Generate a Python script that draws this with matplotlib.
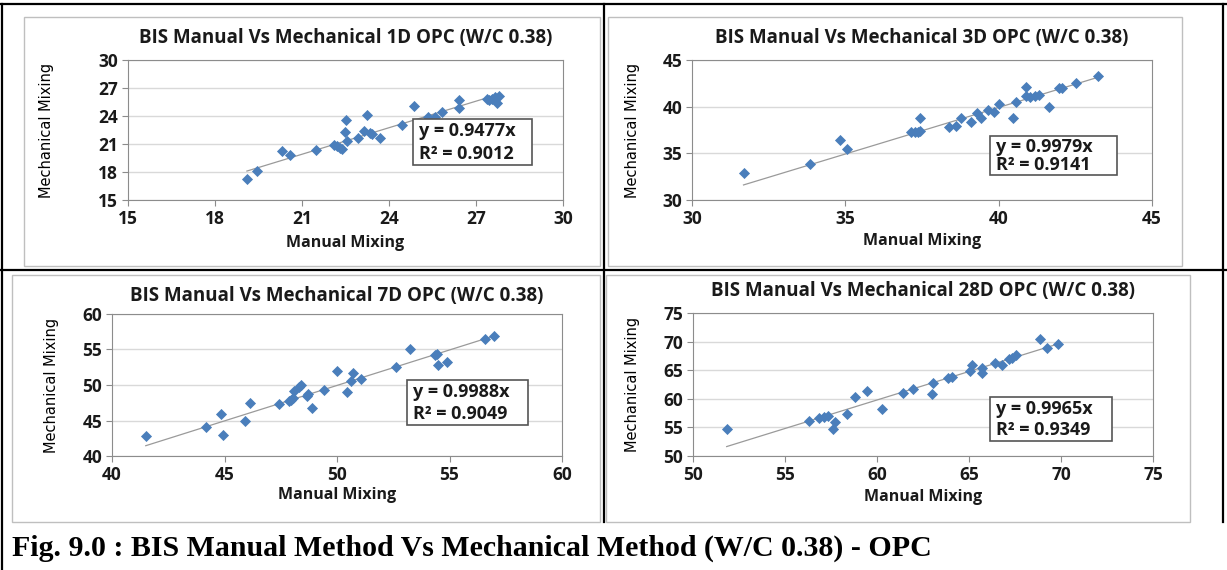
import matplotlib
matplotlib.use('Agg')
import matplotlib.pyplot as plt
from matplotlib.lines import Line2D
from matplotlib.patches import Rectangle

# ---------------- data ----------------
ages = ['1D', '3D', '7D', '28D']
slopes = [0.9477, 0.9979, 0.9988, 0.9965]
r2_values = [0.9012, 0.9141, 0.9049, 0.9349]

# 1 day
manual_1d = [19.1, 19.45, 20.3, 20.57, 21.48, 22.12, 22.22, 22.31, 22.39, 22.47, 22.54,
             22.53, 22.93, 23.15, 23.24, 23.35, 23.4, 23.68, 24.44, 24.85, 25.34, 25.6,
             25.84, 26.42, 26.42, 27.37, 27.45, 27.56, 27.66, 27.81, 27.74]
mech_1d = [17.26, 18.15, 20.28, 19.84, 20.35, 20.9, 20.77, 20.6, 20.42, 22.28, 21.28,
           23.52, 21.67, 22.37, 24.15, 22.15, 22.05, 21.67, 23.08, 25.08, 23.85, 23.94,
           24.38, 25.74, 24.91, 25.77, 25.67, 25.86, 25.99, 26.17, 25.38]
ticks_1d = [15, 18, 21, 24, 27, 30]

# 3 days
manual_3d = [31.68, 33.85, 34.84, 35.04, 37.15, 37.26, 37.36, 37.45, 37.45, 38.37, 38.6,
             38.77, 39.11, 39.29, 39.42, 39.64, 39.84, 40.02, 40.47, 40.56, 40.89, 40.9,
             41.03, 41.17, 41.3, 41.64, 41.98, 42.07, 42.51, 43.24]
mech_3d = [32.9, 33.88, 36.47, 35.51, 37.25, 37.28, 37.33, 37.43, 38.77, 37.83, 37.97,
           38.77, 38.33, 39.3, 38.77, 39.66, 39.42, 40.33, 38.75, 40.54, 42.09, 41.12,
           41.05, 41.1, 41.3, 39.95, 42.0, 42.05, 42.56, 43.24]
ticks_3d = [30, 35, 40, 45]

# 7 days
manual_7d = [41.5, 44.18, 44.84, 44.92, 45.9, 46.15, 47.43, 47.85, 47.97, 48.06, 48.08,
             48.3, 48.4, 48.66, 48.7, 48.9, 49.44, 50.02, 50.46, 50.62, 50.73, 51.08,
             52.64, 53.23, 54.37, 54.46, 54.49, 54.87, 56.56, 56.96]
mech_7d = [42.79, 44.1, 45.88, 42.89, 44.9, 47.52, 47.33, 47.7, 47.95, 48.2, 49.18,
           49.78, 49.98, 48.4, 48.75, 46.74, 49.33, 52.03, 48.95, 50.53, 51.7, 50.91,
           52.52, 55.12, 54.26, 54.3, 52.88, 53.28, 56.44, 56.84]
ticks_7d = [40, 45, 50, 55, 60]

# 28 days
manual_28d = [51.83, 56.3, 56.84, 57.13, 57.33, 57.62, 57.72, 58.39, 58.8, 59.48, 60.28,
              61.4, 61.93, 63.04, 63.0, 63.88, 64.05, 65.03, 65.18, 65.7, 65.7, 66.43,
              66.82, 67.19, 67.33, 67.57, 68.87, 69.22, 69.85]
mech_28d = [54.74, 56.05, 56.6, 56.86, 57.04, 54.74, 56.01, 57.37, 60.29, 61.42, 58.18,
            61.1, 61.69, 62.74, 60.9, 63.62, 63.8, 64.8, 65.94, 65.47, 64.45, 66.22,
            65.92, 66.95, 67.22, 67.67, 70.47, 68.95, 69.53]
ticks_28d = [50, 55, 60, 65, 70, 75]

caption = 'Fig. 9.0 : BIS Manual Method Vs Mechanical Method (W/C 0.38) - OPC'

# ---------------- layout (pixel coords of the 1227x570 picture) ----------------
W, H = 1227, 570


def fx(p):
    return p / W


def fy(p):
    return 1 - p / H


# plot box (left, right, top, bottom), title y, xlabel y, ylabel x, eq box (l, t, r, b)
layout = [
    dict(box=(128, 563, 60, 200), title_y=38, xlab_y=243, ylab_x=47, eq=(413, 119, 532, 165)),
    dict(box=(692, 1152, 60, 200), title_y=38, xlab_y=241, ylab_x=632, eq=(990, 136, 1117, 175)),
    dict(box=(112, 562, 314, 456), title_y=296, xlab_y=495, ylab_x=52, eq=(407, 380, 528, 425)),
    dict(box=(693, 1153, 313, 456), title_y=291, xlab_y=497, ylab_x=632, eq=(990, 397, 1112, 441)),
]
panels = [(manual_1d, mech_1d, ticks_1d), (manual_3d, mech_3d, ticks_3d),
          (manual_7d, mech_7d, ticks_7d), (manual_28d, mech_28d, ticks_28d)]

SANS = ['Open Sans', 'DejaVu Sans']
NARROW = ['Liberation Sans Narrow', 'DejaVu Sans']
plt.rcParams['font.family'] = SANS
TXT = '#1a1a1a'

fig = plt.figure(figsize=(W / 100, H / 100), dpi=100)

for i, ((xs, ys, ticks), lay) in enumerate(zip(panels, layout)):
    l, r, t, b = lay['box']
    ax = fig.add_axes([fx(l), fy(b), (r - l) / W, (b - t) / H])
    ax.scatter(xs, ys, marker='D', s=32, color='#4a7ebb', zorder=3, linewidths=0)

    # linear trend through origin over the data range
    x0, x1 = min(xs), max(xs)
    ax.plot([x0, x1], [slopes[i] * x0, slopes[i] * x1], color='#9a9a9a', lw=0.9, zorder=2)

    ax.set_xlim(ticks[0], ticks[-1])
    ax.set_ylim(ticks[0], ticks[-1])
    ax.set_xticks(ticks)
    ax.set_yticks(ticks)
    ax.set_xticklabels([str(v) for v in ticks], fontweight='bold', fontsize=12.5, color=TXT)
    ax.set_yticklabels([str(v) for v in ticks], fontweight='bold', fontsize=12.5, color=TXT)
    ax.tick_params(axis='both', direction='out', length=4, width=0.8, color='#8c8c8c', pad=3)
    ax.grid(axis='y', color='#d9d9d9', lw=1)
    ax.set_axisbelow(True)
    for sp in ax.spines.values():
        sp.set_color('#8c8c8c')
        sp.set_linewidth(0.8)

    cx = (l + r) / 2
    fig.text(fx(cx), fy(lay['title_y']), f'BIS Manual Vs Mechanical {ages[i]} OPC (W/C 0.38)',
             ha='center', va='center', fontsize=13.5, fontweight='bold', color=TXT)
    fig.text(fx(cx), fy(lay['xlab_y']), 'Manual Mixing', ha='center', va='center',
             fontsize=11.5, fontweight='bold', color=TXT)
    fig.text(fx(lay['ylab_x']), fy((t + b) / 2), 'Mechanical Mixing', ha='center', va='center',
             rotation=90, fontsize=10.5, family=NARROW, color='black')

    el, et, er, eb = lay['eq']
    fig.add_artist(Rectangle((fx(el), fy(eb)), (er - el) / W, (eb - et) / H,
                             transform=fig.transFigure, facecolor='white',
                             edgecolor='#555555', lw=1.2, zorder=5))
    line_h = (eb - et) / 2
    fig.text(fx(el + 6), fy(et + line_h * 0.5 + 1), f'y = {slopes[i]:.4f}x', ha='left', va='center',
             fontsize=13, fontweight='bold', color=TXT, zorder=6)
    fig.text(fx(el + 6), fy(et + line_h * 1.5), f'R² = {r2_values[i]:.4f}', ha='left', va='center',
             fontsize=13, fontweight='bold', color=TXT, zorder=6)

# chart area borders (light grey)
for (l, t, r, b) in [(24, 17, 600, 266), (608, 17, 1182, 266), (12, 275, 600, 522), (606, 275, 1190, 522)]:
    fig.add_artist(Rectangle((fx(l), fy(b)), (r - l) / W, (b - t) / H, transform=fig.transFigure,
                             fill=False, edgecolor='#bfbfbf', lw=1))

# table frame (black)
frame = [((0, 4), (W, 4)), ((2, 4), (2, H)), ((1223, 4), (1223, 522)),
         ((604, 4), (604, 522)), ((0, 270), (W, 270))]
for (p0, p1) in frame:
    fig.add_artist(Line2D([fx(p0[0]), fx(p1[0])], [fy(p0[1]), fy(p1[1])],
                          transform=fig.transFigure, color='black', lw=1.6))

fig.text(fx(12), fy(548), caption, ha='left', va='center', fontsize=21.5, fontweight='bold',
         family=['Liberation Serif', 'DejaVu Serif'], color='black')

fig.savefig('out.png', dpi=100)
